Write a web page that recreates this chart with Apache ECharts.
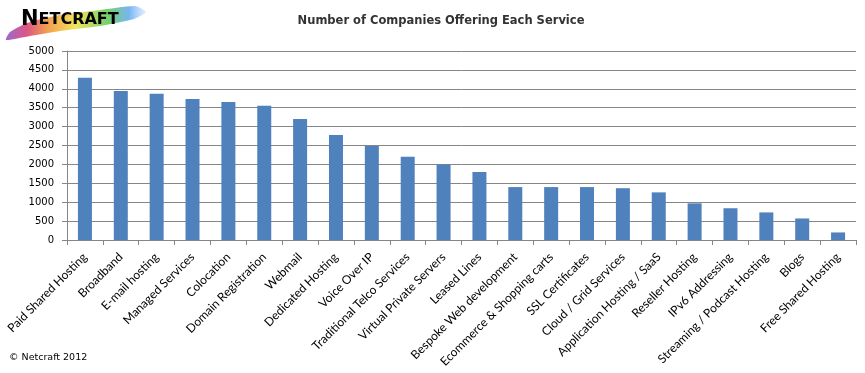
<!DOCTYPE html>
<html><head><meta charset="utf-8">
<script src="https://cdn.jsdelivr.net/npm/echarts@6/dist/echarts.min.js"></script>
<style>html,body{margin:0;padding:0;background:#fff}#c{width:865px;height:373px}</style>
</head><body><div id="c"></div>
<script>
const categories = ["Paid Shared Hosting","Broadband","E-mail hosting","Managed Services","Colocation","Domain Registration","Webmail","Dedicated Hosting","Voice Over IP","Traditional Telco Services","Virtual Private Servers","Leased Lines","Bespoke Web development","Ecommerce & Shopping carts","SSL Certificates","Cloud / Grid Services","Application Hosting / SaaS","Reseller Hosting","IPv6 Addressing","Streaming / Podcast Hosting","Blogs","Free Shared Hosting"];
const companies = [4290,3940,3870,3730,3650,3550,3200,2780,2490,2200,2000,1800,1400,1400,1400,1370,1260,970,840,730,570,200];
const yTicks = {min:0, max:5000, interval:500};
const titleText = "Number of Companies Offering Each Service";
const copyright = "© Netcraft 2012";

const chart = echarts.init(document.getElementById('c'));
chart.setOption({
  animation:false,
  title:{text:titleText,left:436,top:10,textAlign:'center',
    textStyle:{fontFamily:'DejaVu Sans',fontSize:11.5,fontWeight:'bold',color:'#333'}},
  grid:{left:67,right:9,top:51,bottom:133},
  xAxis:{type:'category',data:categories,
    axisLine:{lineStyle:{color:'#868686',width:1}},
    axisTick:{show:true,length:5,lineStyle:{color:'#868686'}},
    axisLabel:{rotate:45,interval:0,margin:15,fontFamily:'Lato',fontSize:12,color:'#000'}},
  yAxis:{type:'value',min:yTicks.min,max:yTicks.max,interval:yTicks.interval,
    axisLine:{show:true,lineStyle:{color:'#868686'}},
    axisTick:{show:true,length:5,lineStyle:{color:'#868686'}},
    splitLine:{lineStyle:{color:'#868686',width:1}},
    axisLabel:{margin:13,fontFamily:'DejaVu Sans',fontSize:10,color:'#000',formatter:v=>String(v)}},
  series:[{type:'bar',data:companies,barWidth:14,itemStyle:{color:'#4F81BD'}}],
  graphic:[
    {type:'polygon',shape:{smooth:0.2,points:[[6,40],[30,36],[60,31],[100,26],[134,19],[146,12],[135,6],[100,10],[60,15],[30,22],[10,32]]},
     style:{fill:new echarts.graphic.LinearGradient(0,0,1,0,[
       {offset:0,color:'#8a4fc8'},{offset:0.15,color:'#d63a6e'},{offset:0.3,color:'#f09030'},
       {offset:0.5,color:'#f0e040'},{offset:0.72,color:'#60c850'},{offset:0.88,color:'#60a8f0'},{offset:1,color:'rgba(140,190,255,0.3)'}]),opacity:0.85}},
    {type:'text',left:21,top:9,style:{rich:{a:{fontSize:21,fontWeight:'bold',fontFamily:'DejaVu Sans',fill:'#000'},b:{fontSize:16,fontWeight:'bold',fontFamily:'DejaVu Sans',fill:'#000'}},text:'{a|N}{b|ETCRAFT}',fill:'#000'}},
    {type:'text',left:9,top:353,style:{text:copyright,fontFamily:'DejaVu Sans',fontSize:9.5,fill:'#000'}}
  ]
});
</script></body></html>
